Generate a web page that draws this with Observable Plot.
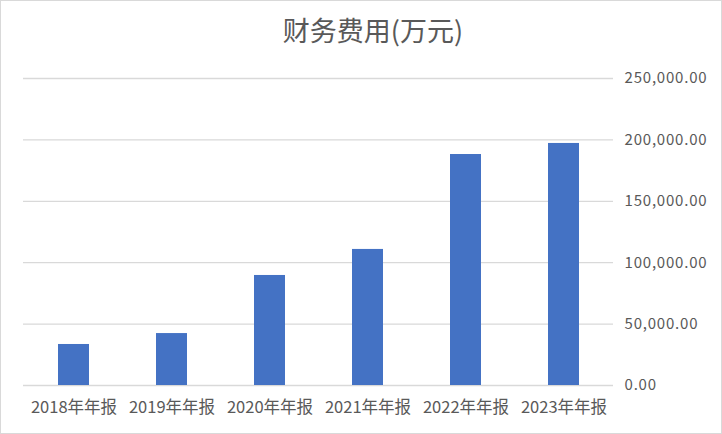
<!DOCTYPE html>
<html>
<head>
<meta charset="utf-8">
<script src="https://cdn.jsdelivr.net/npm/d3@7"></script>
<script src="https://cdn.jsdelivr.net/npm/@observablehq/plot@0.6"></script>
<style>
  html, body { margin: 0; padding: 0; background: #fff; }
  #frame { width: 720px; height: 432px; border: 1px solid #d9d9d9; position: relative; overflow: hidden; background: #fff;
    font-family: "Noto Sans CJK SC", "Noto Sans", sans-serif; }
  #title { height: 59px; line-height: 58px; text-align: center; font-size: 27px; color: #595959; padding-left: 24px; box-sizing: border-box; }
  #chart svg { display: block; }
  #chart g[aria-label="y-axis tick label"] text { letter-spacing: 0.8px; }
</style>
</head>
<body>
<div id="frame">
  <div id="title">财务费用(万元)</div>
  <div id="chart"></div>
</div>
<script>
const categories = ["2018年年报", "2019年年报", "2020年年报", "2021年年报", "2022年年报", "2023年年报"];
const values = [33400, 42300, 89600, 110800, 188100, 197100];
const yTicks = [0, 50000, 100000, 150000, 200000, 250000];

const data = categories.map((c, i) => ({category: c, value: values[i]}));
const fmt = d3.format(",.2f");

const chart = Plot.plot({
  width: 720,
  height: 372,
  marginTop: 18,
  marginBottom: 47,
  marginLeft: 22,
  marginRight: 108,
  style: {fontFamily: '"Noto Sans CJK SC", "Noto Sans", sans-serif', color: "#595959", background: "#fff"},
  x: {domain: categories, paddingInner: 0.685, paddingOuter: 0.3425, label: null, axis: null},
  y: {domain: [0, 250000], label: null, axis: null},
  marks: [
    Plot.gridY(yTicks, {stroke: "#d9d9d9", strokeOpacity: 1, strokeWidth: 1.3}),
    Plot.barY(data, {x: "category", y: "value", fill: "#4472c4"}),
    Plot.axisX({tickSize: 0, tickPadding: 16, fontSize: 16.5, fill: "#595959", label: null}),
    Plot.axisY(yTicks, {anchor: "right", tickSize: 0, tickPadding: 11, tickFormat: fmt, fontSize: 15, fill: "#595959", label: null})
  ]
});
document.getElementById("chart").append(chart);
</script>
</body>
</html>
